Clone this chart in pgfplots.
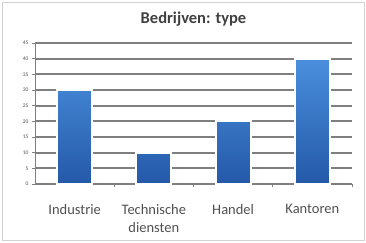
\documentclass[border=0pt]{standalone}
\usepackage{pgfplots}
\pgfplotsset{compat=1.18}
\usepackage{fontspec}
\setmainfont{Carlito}
\definecolor{bartop}{HTML}{4A8FDD}
\definecolor{barbot}{HTML}{2459A8}
\definecolor{gridc}{HTML}{7F7F7F}
\definecolor{txt}{HTML}{505050}
\begin{document}
\begin{tikzpicture}[x=1pt,y=1pt]
\path[use as bounding box] (0,0) rectangle (366,242);
\draw[gray!35, line width=1pt] (2,2) rectangle (364,240);
\begin{axis}[
  at={(35pt,58pt)}, anchor=south west,
  scale only axis, width=317pt, height=141pt,
  xmin=-0.5, xmax=3.5, ymin=0, ymax=45,
  axis lines*=left,
  axis line style={gridc, line width=0.8pt},
  xtick={0,1,2,3},
  xticklabels={Industrie,{Technische\\diensten},Handel,Kantoren},
  xticklabel style={align=center, font=\fontsize{14.5}{17.5}\selectfont, text=txt, yshift=-14pt},
  major x tick style={draw=none},
  minor xtick={0.5,1.5,2.5,3.5},
  minor x tick style={gridc, line width=0.6pt},
  minor tick length=3pt,
  ytick={0,5,...,45},
  yticklabel style={font=\fontsize{5.5}{6}\selectfont, text=txt},
  major y tick style={gridc, line width=0.6pt},
  major tick length=3pt,
  tick align=outside,
  ymajorgrids,
  grid style={gridc, line width=2pt},
  /pgf/number format/assume math mode=true,
  title={Bedrijven: type},
  title style={font=\fontsize{16.5}{18}\selectfont\bfseries, text=black!75, at={(0.5,1)}, anchor=south, yshift=7pt},
  clip=false,
]
\addplot[ybar, bar width=0.44, draw=white, line width=2pt, top color=bartop, bottom color=barbot]
  coordinates {(0,30) (1,10) (2,20) (3,40)};
\end{axis}
\end{tikzpicture}
\end{document}
